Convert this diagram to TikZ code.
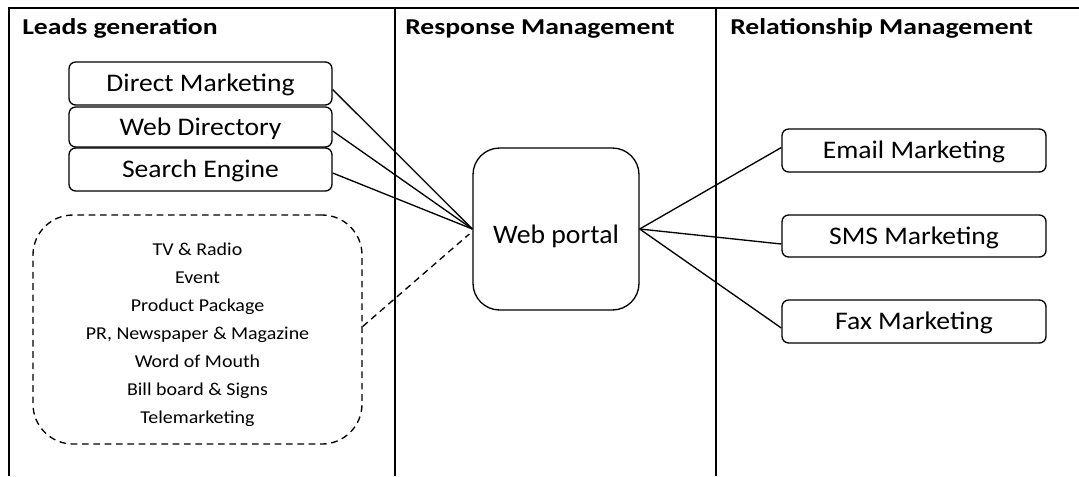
\documentclass[tikz,border=0pt]{standalone}
\usepackage{fontspec}
\setmainfont{Carlito}
\newfontfamily\boxfont{Carlito}[FakeStretch=1.09]
\newfontfamily\titlefont{Carlito}[FakeStretch=1.22]
\newfontfamily\portalfont{Carlito}[FakeStretch=1.04]
\newfontfamily\listfont{Carlito}[FakeStretch=1.10]
\usetikzlibrary{calc}
\begin{document}
\begin{tikzpicture}[x=0.75pt,y=-0.75pt,
  frame/.style={line width=1.4pt},
  title/.style={font=\titlefont\bfseries\fontsize{17}{20}\selectfont, anchor=base west, inner sep=0pt},
  srcbox/.style={draw, line width=1pt, rounded corners=5pt, inner sep=0pt,
    text height=14pt, text depth=2pt,
    minimum width=263*0.75pt, font=\boxfont\fontsize{19}{22}\selectfont},
  outbox/.style={draw, line width=1pt, rounded corners=5pt, inner sep=0pt,
    text height=14pt, text depth=2pt,
    minimum width=264*0.75pt, font=\boxfont\fontsize{19}{22}\selectfont},
  link/.style={line width=1pt},
  dashlink/.style={line width=1pt, dash pattern=on 5pt off 3.5pt}
]
\useasboundingbox (0,0) rectangle (1079,476);
% frame
\draw[frame] (9,476) -- (9,8) -- (1079,8);
\draw[frame] (395,8) -- (395,476);
\draw[frame] (716,8) -- (716,476);
% titles
\node[title] (t1) at (22,34.5) {Leads generation};
\node[title] (t2) at (405,34.5) {Response Management};
\node[title] (t3) at (730,34.5) {Relationship Management};
% source boxes
\node[srcbox, minimum height=43*0.75pt] (dm) at (200.5,83.5) {Direct Marketing};
\node[srcbox, minimum height=40*0.75pt] (wd) at (200.5,127) {Web Directory};
\node[srcbox, minimum height=43*0.75pt] (se) at (200.5,169.5) {Search Engine};
% dashed box
\node[draw, line width=1pt, dash pattern=on 5pt off 3.5pt, rounded corners=30pt,
  minimum width=329*0.75pt, minimum height=229*0.75pt, inner sep=0pt] (other) at (197.5,329.5) {};
\begin{scope}
\clip (33,215) rectangle (362,425);
\node[align=center, font=\listfont\fontsize{13.6}{21}\selectfont, anchor=base, inner sep=0pt] (otxt) at (197.5,423)
  {TV \& Radio\\Event\\Product Package\\PR, Newspaper \& Magazine\\Word of Mouth\\Bill board \& Signs\\Telemarketing};
\end{scope}
% web portal
\node[draw, line width=1pt, rounded corners=20pt, minimum width=166*0.75pt, minimum height=162*0.75pt,
  inner sep=0pt, text height=21pt, text depth=0pt, font=\portalfont\fontsize{20}{23}\selectfont] (wp) at (556,229) {Web portal};
% output boxes
\node[outbox, minimum height=43*0.75pt] (em) at (914,150.5) {Email Marketing};
\node[outbox, minimum height=42*0.75pt] (sms) at (914,236) {SMS Marketing};
\node[outbox, minimum height=43*0.75pt] (fax) at (914,321.5) {Fax Marketing};
% connectors
\draw[link] ($(dm.east)+(0,6)$) -- (wp.west);
\draw[link] ($(wd.east)+(0,4)$) -- (wp.west);
\draw[link] ($(se.east)+(0,3.5)$) -- (wp.west);
\draw[dashlink] ($(other.east)+(0,-3)$) -- ($(wp.west)+(-3,5)$);
\draw[link] (wp.east) -- ($(em.west)+(0,-3)$);
\draw[link] (wp.east) -- ($(sms.west)+(0,8)$);
\draw[link] (wp.east) -- ($(fax.west)+(0,6.5)$);
\end{tikzpicture}
\end{document}
